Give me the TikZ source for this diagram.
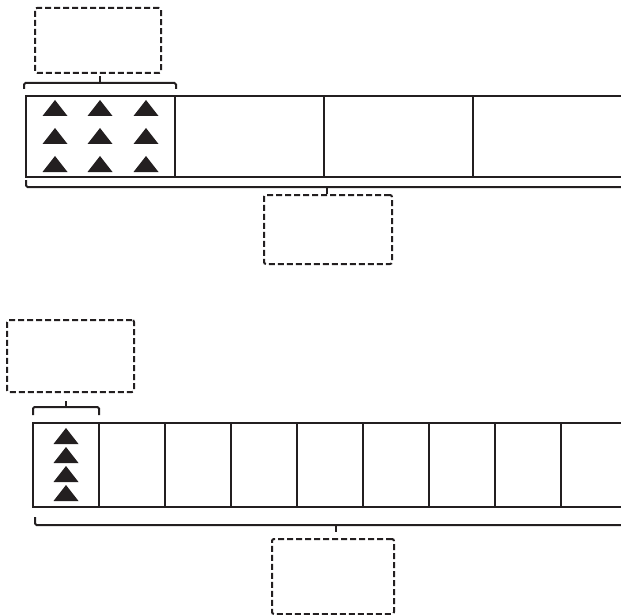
\documentclass[tikz,border=0pt]{standalone}
\usepackage{xcolor}
\usetikzlibrary{positioning}
\definecolor{ink}{HTML}{231F20}

\begin{document}
\begin{tikzpicture}[
x=1pt, y=-1pt,
node distance=0pt,
cell/.style={draw=ink, line width=2.2pt, inner sep=0pt, outer sep=0pt},
wide/.style={cell, minimum width=149pt, minimum height=81pt},
narrow/.style={cell, minimum width=66pt, minimum height=84pt},
bracket/.style={draw=ink, line width=2pt, rounded corners=1.5pt},
label box/.style={draw=ink, dashed, dash pattern=on 6pt off 3pt, line width=2pt, rounded corners=2pt, inner sep=0pt},
tri/.pic={\fill[ink] (-12.5,0) -- (12.5,0) -- (0,-16) -- cycle;}
]
\useasboundingbox (0,0) rectangle (621,615);
\clip (0,0) rectangle (621,615);

\node[wide, anchor=north west] (a1) at (26,96) {};
\foreach \i [remember=\i as \j (initially 1)] in {2,...,4}
  \node[wide, right=of a\j] (a\i) {};
\foreach \x in {55,100,146}
  \foreach \y in {116,144,172}
    \pic at (\x,\y) {tri};

\node[label box, minimum width=126pt, minimum height=65pt] (topnote) at (98,40.5) {};
\node[label box, minimum width=128pt, minimum height=69pt] (topsum) at (328,229.5) {};
\coordinate (ta) at (100,83);
\coordinate (tb) at (327,187);
\draw[bracket] (24,89) -- (24,83) -- (176,83) -- (176,89);
\draw[bracket] (ta) -- ++(0,-7);
\draw[bracket] (26,180) -- (26,187) -- (640,187);
\draw[bracket] (tb) -- ++(0,7);

\node[narrow, anchor=north west] (b1) at (33,423) {};
\foreach \i [remember=\i as \j (initially 1)] in {2,...,9}
  \node[narrow, right=of b\j] (b\i) {};
\foreach \y in {444,463,482,501}
  \pic at (66,\y) {tri};

\node[label box, minimum width=127pt, minimum height=72pt] (botnote) at (70.5,356) {};
\node[label box, minimum width=122pt, minimum height=75pt] (botsum) at (333,576.5) {};
\coordinate (ba) at (66,407);
\coordinate (bb) at (336,525);
\draw[bracket] (33,415) -- (33,407) -- (99,407) -- (99,415);
\draw[bracket] (ba) -- ++(0,-6);
\draw[bracket] (35,517) -- (35,525) -- (640,525);
\draw[bracket] (bb) -- ++(0,7);
\end{tikzpicture}
\end{document}
